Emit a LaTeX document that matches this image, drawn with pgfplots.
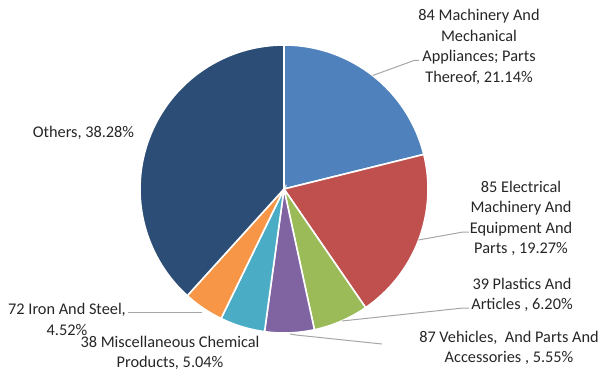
\documentclass[border=0pt]{standalone}
\usepackage{pgfplots}
\pgfplotsset{compat=1.18}
\usepackage{fontspec}
\setmainfont{Carlito}
\definecolor{cA}{HTML}{4F81BD}
\definecolor{cB}{HTML}{C0504D}
\definecolor{cC}{HTML}{9BBB59}
\definecolor{cD}{HTML}{8064A2}
\definecolor{cE}{HTML}{4BACC6}
\definecolor{cF}{HTML}{F79646}
\definecolor{cG}{HTML}{2C4D75}
\definecolor{lead}{HTML}{A6A6A6}
\definecolor{txt}{HTML}{262626}
\tikzset{lbl/.style={font=\fontsize{16.3bp}{20.5bp}\selectfont,text=txt,align=center,inner sep=0pt}}
% slice: start percent, end percent, colour
\newcommand{\slice}[3]{%
  \addplot[fill=#3,draw=white,line width=1.6bp,domain=3.6*(#1):3.6*(#2),samples=90,variable=\t]
    ({284+144*sin(\t)},{189-144*cos(\t)}) -- (axis cs:284,189) -- cycle;}
\begin{document}
\begin{tikzpicture}
\begin{axis}[width=601bp,height=376bp,scale only axis,hide axis,clip=false,
  xmin=0,xmax=601,ymin=0,ymax=376,y dir=reverse]
\path (axis cs:0,0) rectangle (axis cs:601,376);
% shares (percent): 21.14, 19.27, 6.20, 5.55, 5.04, 4.52, 38.28
\slice{0}{21.14}{cA}
\slice{21.14}{21.14+19.27}{cB}
\slice{21.14+19.27}{21.14+19.27+6.20}{cC}
\slice{21.14+19.27+6.20}{21.14+19.27+6.20+5.55}{cD}
\slice{21.14+19.27+6.20+5.55}{21.14+19.27+6.20+5.55+5.04}{cE}
\slice{21.14+19.27+6.20+5.55+5.04}{21.14+19.27+6.20+5.55+5.04+4.52}{cF}
\slice{21.14+19.27+6.20+5.55+5.04+4.52}{100}{cG}
% leader lines
\addplot[lead,line width=1bp] coordinates {(372.7,75.5) (414,60.5) (419,60.5)};
\addplot[lead,line width=1bp] coordinates {(418.5,240) (463,232) (469,232)};
\addplot[lead,line width=1bp] coordinates {(342,321) (463,308) (469,308)};
\addplot[lead,line width=1bp] coordinates {(290,334) (296,335) (382,344)};
\addplot[lead,line width=1bp] coordinates {(202,312) (128,312)};
% labels
\node[lbl] at (axis cs:479,47) {84 Machinery And\\Mechanical\\Appliances; Parts\\Thereof, 21.14\%};
\node[lbl] at (axis cs:521,218.5) {85 Electrical\\Machinery And\\Equipment And\\Parts , 19.27\%};
\node[lbl] at (axis cs:522,295) {39 Plastics And\\Articles , 6.20\%};
\node[lbl] at (axis cs:509,348) {87 Vehicles,\ \ And Parts And\\Accessories , 5.55\%};
\node[lbl] at (axis cs:170,353) {38 Miscellaneous Chemical\\Products, 5.04\%};
\node[lbl] at (axis cs:67,319.5) {72 Iron And Steel,\\4.52\%};
\node[lbl] at (axis cs:83.5,132.5) {Others, 38.28\%};
\end{axis}
\end{tikzpicture}
\end{document}
